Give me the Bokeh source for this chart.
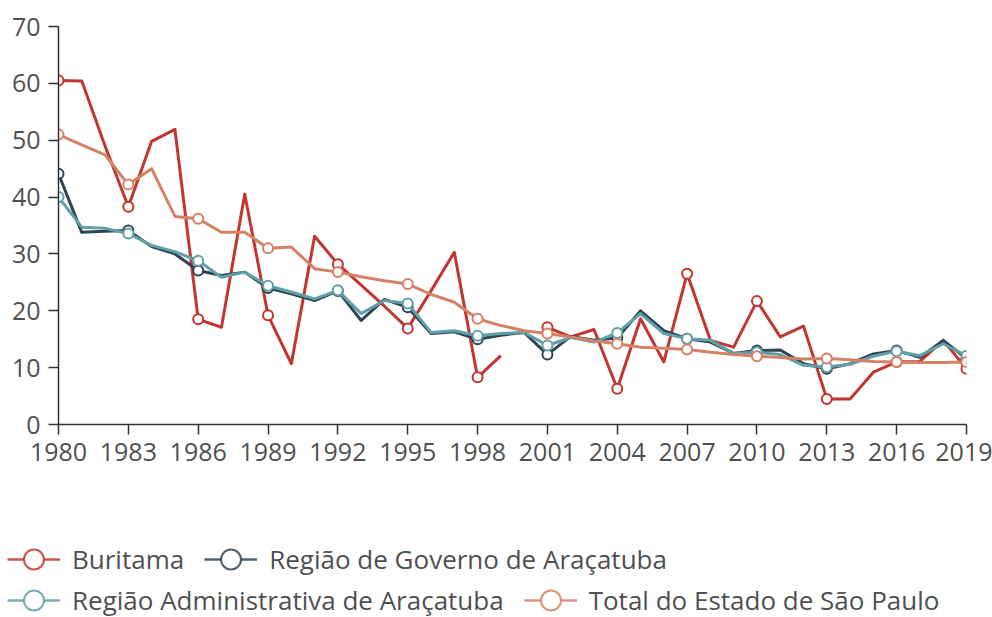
import math
from bokeh.plotting import figure
from bokeh.layouts import column
from bokeh.models import Range1d, FixedTicker, Legend, LegendItem, ColumnDataSource
from bokeh.embed import file_html
from bokeh.resources import INLINE

nan = float("nan")
years = list(range(1980, 2020))
buritama = [60.5, 60.4, 49.0, 38.3, 49.8, 51.9, 18.5, 17.1, 40.5, 19.2,
            10.7, 33.1, 28.2, 24.5, 20.8, 16.9, 23.5, 30.3, 8.3, 12.1,
            nan, 17.1, 15.4, 16.7, 6.3, 18.6, 11.0, 26.5, 14.8, 13.6,
            21.7, 15.4, 17.3, 4.5, 4.5, 9.2, 11.0, 11.1, 14.8, 9.8]
rg_aracatuba = [44.1, 33.8, 34.0, 34.1, 31.3, 30.0, 27.1, 26.2, 26.8, 24.0,
                23.0, 21.8, 23.5, 18.3, 22.0, 20.6, 16.0, 16.3, 15.0, 15.7,
                16.2, 12.3, 15.5, 14.8, 15.2, 20.0, 16.5, 15.1, 14.5, 12.5,
                13.0, 13.1, 10.7, 9.8, 10.7, 12.4, 13.0, 11.8, 14.8, 11.6]
ra_aracatuba = [40.0, 34.7, 34.5, 33.6, 31.5, 30.4, 28.8, 25.9, 26.8, 24.4,
                23.3, 22.1, 23.6, 19.5, 21.8, 21.3, 16.2, 16.5, 15.6, 16.0,
                16.2, 13.9, 15.3, 14.5, 16.1, 19.5, 16.0, 15.1, 14.8, 12.5,
                12.7, 12.3, 10.4, 10.1, 10.6, 12.0, 12.9, 12.1, 14.2, 12.1]
total_sp = [51.0, 49.2, 47.4, 42.2, 45.0, 36.6, 36.2, 33.8, 33.8, 31.0,
            31.2, 27.4, 26.8, 26.0, 25.3, 24.7, 22.9, 21.5, 18.6, 17.4,
            16.5, 16.0, 15.4, 14.7, 14.2, 13.6, 13.4, 13.2, 12.7, 12.3,
            12.0, 11.8, 11.5, 11.6, 11.4, 11.1, 11.0, 10.9, 10.9, 11.0]

series_names = ["Buritama", "Região de Governo de Araçatuba",
                "Região Administrativa de Araçatuba", "Total do Estado de São Paulo"]
series_values = [buritama, rg_aracatuba, ra_aracatuba, total_sp]
colors = ["#c23531", "#2f4554", "#61a0a8", "#d48265"]
x_ticks = list(range(1980, 2020, 3))
y_ticks = list(range(0, 71, 10))

FONT = "Open Sans"
TXT = "#505050"

p = figure(width=992, height=490, output_backend="svg", toolbar_location=None,
           x_range=Range1d(1980, 2019), y_range=Range1d(0, 70),
           min_border_left=58, min_border_right=26, min_border_top=26,
           min_border_bottom=66)
p.frame_align = False
p.outline_line_color = None
p.xgrid.grid_line_color = None
p.ygrid.grid_line_color = None
p.background_fill_color = "white"
p.border_fill_color = "white"

for ax, ticks in ((p.xaxis[0], x_ticks), (p.yaxis[0], y_ticks)):
    ax.ticker = FixedTicker(ticks=ticks)
    ax.axis_line_color = "#333333"
    ax.axis_line_width = 1.5
    ax.major_tick_line_color = "#333333"
    ax.major_tick_line_width = 1.5
    ax.major_tick_out = 10
    ax.major_tick_in = 0
    ax.minor_tick_line_color = None
    ax.major_label_text_font = FONT
    ax.major_label_text_font_size = "25px"
    ax.major_label_text_color = TXT
p.xaxis[0].major_label_standoff = 8
p.yaxis[0].major_label_standoff = 8

for name, vals, col in zip(series_names, series_values, colors):
    src = ColumnDataSource(dict(x=years, y=vals))
    p.line("x", "y", source=src, line_color=col, line_width=3, line_join="round")
    mx = [yr for yr, v in zip(years, vals) if (yr - 1980) % 3 == 0 and not math.isnan(v)]
    my = [v for yr, v in zip(years, vals) if (yr - 1980) % 3 == 0 and not math.isnan(v)]
    p.scatter(mx, my, size=10, marker="circle", fill_color="white",
              line_color=col, line_width=2)

# legend panel below the chart
lp = figure(width=992, height=127, output_backend="svg", toolbar_location=None,
            x_range=Range1d(0, 1), y_range=Range1d(0, 1),
            x_axis_type=None, y_axis_type=None,
            min_border_left=0, min_border_right=0, min_border_top=0, min_border_bottom=0)
lp.frame_align = False
lp.outline_line_color = None
lp.xgrid.grid_line_color = None
lp.ygrid.grid_line_color = None

items = []
for name, col in zip(series_names, colors):
    lr = lp.line([-5, -4], [-5, -4], line_color=col, line_width=2.5, line_alpha=0.85)
    sr = lp.scatter([-5], [-5], marker="circle", fill_color="white",
                    line_color=col, line_width=2, line_alpha=0.85)
    items.append(LegendItem(label=name, renderers=[lr, sr]))

def make_legend(its, loc):
    return Legend(items=its, location=loc, orientation="horizontal",
                  glyph_width=53, glyph_height=50, label_standoff=12, spacing=20,
                  padding=0, margin=0, border_line_color=None,
                  background_fill_alpha=0, label_text_font=FONT,
                  label_text_font_size="26px", label_text_color=TXT)

lp.add_layout(make_legend(items[:2], (7, 33)))
lp.add_layout(make_legend(items[2:], (7, -8)))

layout = column(p, lp, spacing=0)
open("out.html", "w").write(file_html(layout, INLINE))
